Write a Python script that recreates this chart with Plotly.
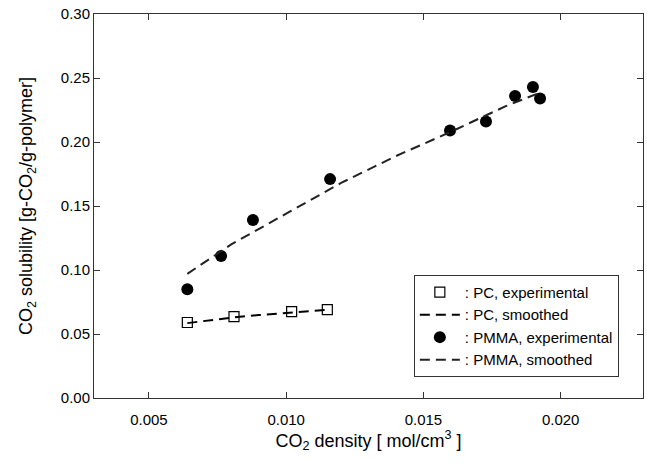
import plotly.graph_objects as go

# PC experimental
pc_x = [0.0064, 0.0081, 0.0102, 0.0115]
pc_y = [0.059, 0.0635, 0.0675, 0.069]
# PC smoothed
pc_s_x = [0.0064, 0.0080, 0.0090, 0.0100, 0.0108, 0.0115]
pc_s_y = [0.0585, 0.0628, 0.0648, 0.0665, 0.0678, 0.0690]
# PMMA experimental
pmma_x = [0.0064, 0.00763, 0.00879, 0.0116, 0.01597, 0.01728, 0.01834, 0.01899, 0.01925]
pmma_y = [0.085, 0.111, 0.139, 0.171, 0.209, 0.216, 0.236, 0.243, 0.234]
# PMMA smoothed
pmma_s_x = [0.0064, 0.0080, 0.0100, 0.0120, 0.0140, 0.0160, 0.0180, 0.0193]
pmma_s_y = [0.097, 0.120, 0.144, 0.168, 0.189, 0.208, 0.228, 0.239]

x_ticks = [0.005, 0.010, 0.015, 0.020]
y_ticks = [0.00, 0.05, 0.10, 0.15, 0.20, 0.25, 0.30]

FONT = "Liberation Sans, Arial, sans-serif"
dash = "10px,6px"

fig = go.Figure()
fig.add_trace(go.Scatter(x=pc_s_x, y=pc_s_y, mode="lines", showlegend=False,
                         line=dict(color="black", width=2, dash=dash)))
fig.add_trace(go.Scatter(x=pc_x, y=pc_y, mode="markers", name=": PC, experimental",
                         marker=dict(symbol="square-open", size=10, color="black",
                                     line=dict(width=1.2, color="black"))))
fig.add_trace(go.Scatter(x=[None], y=[None], mode="lines", name=": PC, smoothed",
                         line=dict(color="black", width=2, dash=dash)))
fig.add_trace(go.Scatter(x=pmma_x, y=pmma_y, mode="markers", name=": PMMA, experimental",
                         marker=dict(symbol="circle", size=12, color="black")))
fig.add_trace(go.Scatter(x=pmma_s_x, y=pmma_s_y, mode="lines", name=": PMMA, smoothed",
                         line=dict(color="#222", width=2, dash=dash)))

axis_common = dict(
    showline=True, linecolor="#333", linewidth=1, mirror="ticks",
    ticks="inside", ticklen=6, tickwidth=1, tickcolor="#333",
    showgrid=False, zeroline=False, automargin=False,
    tickfont=dict(family=FONT, size=15, color="black"),
)

fig.update_layout(
    width=647, height=463,
    margin=dict(l=94, r=4, t=14, b=65),
    paper_bgcolor="white", plot_bgcolor="white",
    font=dict(family=FONT, color="black"),
    xaxis=dict(range=[0.003, 0.023], tickvals=x_ticks, tickformat=".3f",
               title=dict(text="CO<sub>2</sub> density [ mol/cm<sup>3</sup> ]",
                          font=dict(family=FONT, size=18), standoff=6),
               ticklabelstandoff=8,
               **axis_common),
    yaxis=dict(range=[0, 0.30], tickvals=y_ticks, tickformat=".2f",
               title=dict(text="CO<sub>2</sub> solubility [g-CO<sub>2</sub>/g-polymer]",
                          font=dict(family=FONT, size=18), standoff=23),
               **axis_common),
    legend=dict(x=0.956, y=0.055, xanchor="right", yanchor="bottom",
                bordercolor="#333", borderwidth=1, bgcolor="white",
                font=dict(family=FONT, size=15), tracegroupgap=0,
                itemwidth=40, traceorder="normal"),
    showlegend=True,
)

fig.write_html("out.html", config={"displayModeBar": False},
               post_script="document.body.style.margin='0';")
